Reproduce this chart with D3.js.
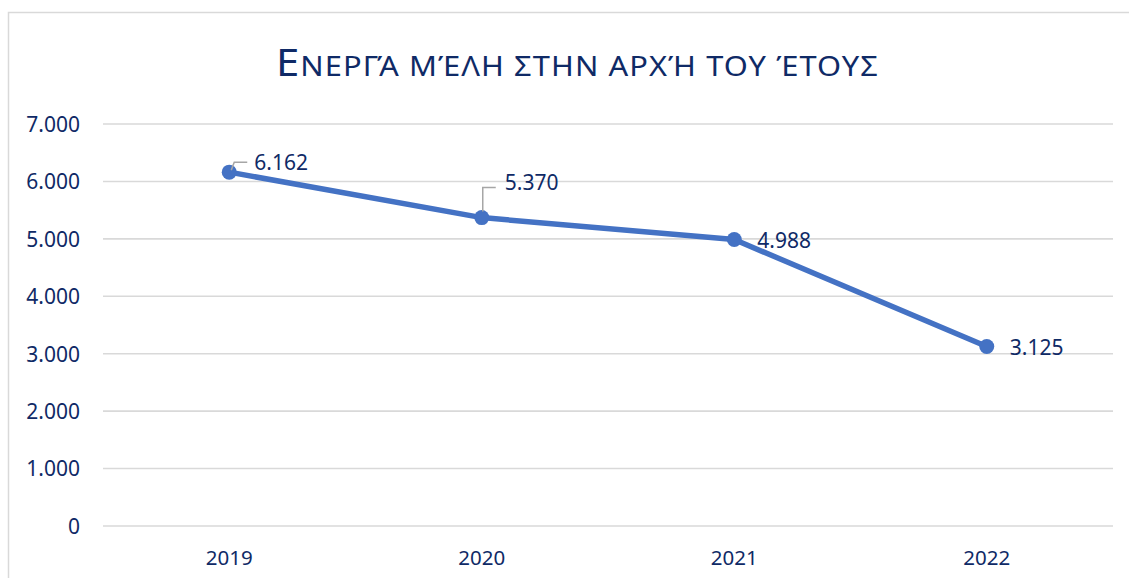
<!DOCTYPE html>
<html>
<head>
<meta charset="utf-8">
<script src="https://cdn.jsdelivr.net/npm/d3@7"></script>
<style>
  html, body { margin: 0; padding: 0; background: #fff; }
  svg { display: block; }
  text { font-family: "Noto Sans", "Open Sans", sans-serif; }
</style>
</head>
<body>
<svg id="chart" width="1129" height="578"></svg>
<script>
// ---- data ----
const categories = ["2019", "2020", "2021", "2022"];
const values = [6162, 5370, 4988, 3125];
const yTicks = [0, 1000, 2000, 3000, 4000, 5000, 6000, 7000];
const titleFirst = "Ε";
const titleRest = "ΝΕΡΓΆ ΜΈΛΗ ΣΤΗΝ ΑΡΧΉ ΤΟΥ ΈΤΟΥΣ";

// ---- layout ----
const W = 1129, H = 578;
const plot = { left: 103, right: 1113, top: 124, bottom: 526 };
const textColor = "#0F2A66";
const lineColor = "#4472C4";
const gridColor = "#D9D9D9";

const locale = d3.formatLocale({ decimal: ",", thousands: ".", grouping: [3], currency: ["", "€"] });
const fmt = locale.format(",d");

const svg = d3.select("#chart");

// chart area border
svg.append("rect")
  .attr("x", 8.5).attr("y", 12.5)
  .attr("width", 1200).attr("height", 700)
  .attr("fill", "#fff")
  .attr("stroke", gridColor).attr("stroke-width", 1.5);

const x = d3.scaleBand().domain(categories).range([plot.left, plot.right]).padding(0);
const y = d3.scaleLinear().domain([0, 7000]).range([plot.bottom, plot.top]);

// gridlines
svg.append("g")
  .selectAll("line")
  .data(yTicks)
  .join("line")
  .attr("x1", plot.left).attr("x2", plot.right)
  .attr("y1", d => y(d)).attr("y2", d => y(d))
  .attr("stroke", gridColor).attr("stroke-width", 1.6);

// y axis labels
const yAxis = d3.axisLeft(y).tickValues(yTicks).tickFormat(d => fmt(d)).tickSize(0).tickPadding(0);
const gy = svg.append("g").attr("transform", `translate(80,0)`).call(yAxis);
gy.select(".domain").remove();
gy.selectAll("text")
  .attr("fill", textColor)
  .style("font-size", "21px")
  .attr("dy", "0.35em");

// x axis labels
const xAxis = d3.axisBottom(x).tickSize(0).tickPadding(0);
const gx = svg.append("g").attr("transform", `translate(0,${plot.bottom})`).call(xAxis);
gx.select(".domain").remove();
gx.selectAll("text")
  .attr("fill", textColor)
  .style("font-size", "20.5px")
  .attr("y", 39).attr("dy", 0);

// title (small caps rendering), widened to the reference width
const sx = 1.1;
const title = svg.append("text")
  .attr("transform", `translate(276,76) scale(${sx},1)`)
  .attr("x", 0).attr("y", 0)
  .attr("fill", textColor);
title.append("tspan").style("font-size", "38px").text(titleFirst);
title.append("tspan").style("font-size", "28px").text(titleRest);
const targetW = 602;
const w0 = title.node().getComputedTextLength();
const nChars = (titleFirst + titleRest).length;
title.style("letter-spacing", Math.max(0, (targetW / sx - w0) / (nChars - 1)) + "px");

// line
const cx = (d, i) => x(categories[i]) + x.bandwidth() / 2;
const line = d3.line().x((d, i) => cx(d, i)).y(d => y(d));
svg.append("path")
  .datum(values)
  .attr("d", line)
  .attr("fill", "none")
  .attr("stroke", lineColor)
  .attr("stroke-width", 5.5)
  .attr("stroke-linejoin", "round");

svg.append("g")
  .selectAll("circle")
  .data(values)
  .join("circle")
  .attr("cx", (d, i) => cx(d, i))
  .attr("cy", d => y(d))
  .attr("r", 7.5)
  .attr("fill", lineColor);

// data label placement (offset of label text start / baseline from point)
const labelLayout = [
  { dx: 25, dy: -2, leader: [[2, -2], [5, -10], [18, -10]] },
  { dx: 23, dy: -28, leader: [[1, -6], [1, -30], [14, -30]] },
  { dx: 23, dy: 8, leader: null },
  { dx: 23, dy: 8, leader: null }
];

const labels = svg.append("g");
values.forEach((v, i) => {
  const px = cx(v, i), py = y(v);
  const L = labelLayout[i];
  if (L.leader) {
    labels.append("polyline")
      .attr("points", L.leader.map(p => `${px + p[0]},${py + p[1]}`).join(" "))
      .attr("fill", "none")
      .attr("stroke", "#A6A6A6")
      .attr("stroke-width", 1.5);
  }
  labels.append("text")
    .attr("x", px + L.dx)
    .attr("y", py + L.dy)
    .attr("fill", textColor)
    .style("font-size", "21px")
    .text(fmt(v));
});
</script>
</body>
</html>
